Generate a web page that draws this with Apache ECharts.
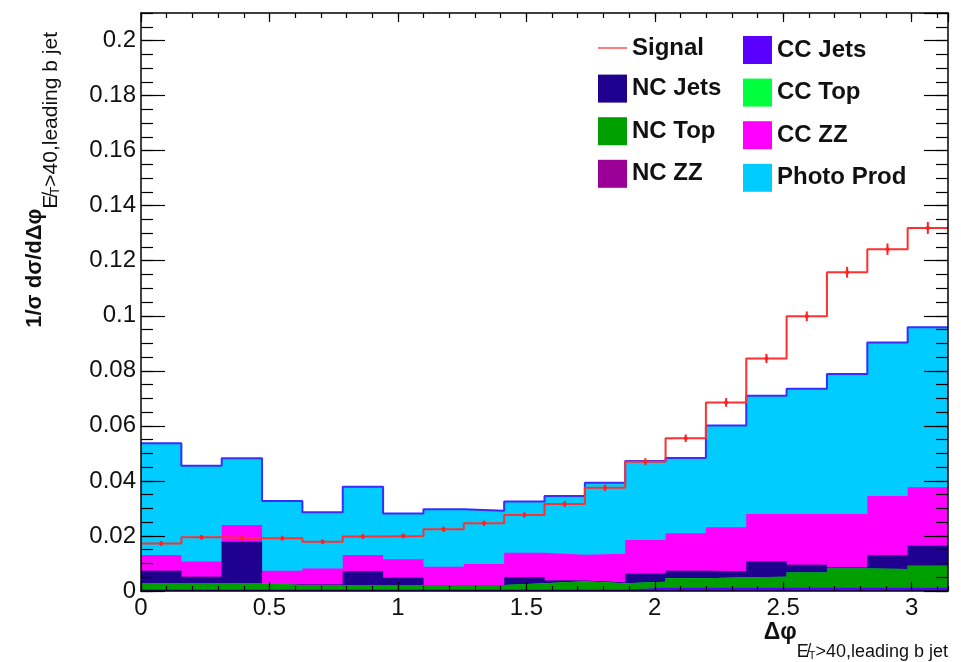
<!DOCTYPE html>
<html>
<head>
<meta charset="utf-8">
<script src="https://cdn.jsdelivr.net/npm/echarts@6/dist/echarts.min.js"></script>
<style>
  html, body { margin: 0; padding: 0; background: #ffffff; }
  #chart { width: 961px; height: 662px; }
</style>
</head>
<body>
<div id="chart"></div>
<script>
// Histogram binning: 20 equal bins over [0, pi]
const nBins = 20;
const xMin = 0;
const xMax = Math.PI;
const binEdges = Array.from({ length: nBins + 1 }, (_, i) => xMin + (xMax - xMin) * i / nBins);
const binCenters = binEdges.slice(0, nBins).map((e, i) => (e + binEdges[i + 1]) / 2);

// Background contributions per bin (stacked, bottom to top)
const ccJets    = [0.0005, 0.0005, 0.0005, 0.0005, 0.0005, 0.0005, 0.0005, 0.0005, 0.0005, 0.0005,
                   0.0005, 0.0005, 0.0012, 0.0012, 0.0012, 0.0012, 0.0012, 0.0012, 0.0012, 0.0012];
const ncTop     = [0.0022, 0.0022, 0.0022, 0.0017, 0.0017, 0.0017, 0.0017, 0.0017, 0.0017, 0.0023,
                   0.0030, 0.0023, 0.0022, 0.0034, 0.0038, 0.0040, 0.0055, 0.0070, 0.0068, 0.0080];
const ccTop     = [0, 0, 0, 0, 0, 0, 0, 0, 0, 0, 0, 0, 0, 0, 0, 0, 0, 0, 0, 0];
const ncJets    = [0.0047, 0.0025, 0.0152, 0.0002, 0.0002, 0.0050, 0.0026, 0.0000, 0.0000, 0.0022,
                   0.0003, 0.0003, 0.0029, 0.0028, 0.0022, 0.0055, 0.0028, 0.0003, 0.0050, 0.0072];
const ncZZ      = [0, 0, 0, 0, 0, 0, 0, 0, 0, 0, 0, 0, 0, 0, 0, 0, 0, 0, 0, 0];
const ccZZ      = [0.0057, 0.0055, 0.0061, 0.0050, 0.0058, 0.0059, 0.0067, 0.0066, 0.0076, 0.0089,
                   0.0094, 0.0104, 0.0122, 0.0136, 0.0160, 0.0173, 0.0185, 0.0195, 0.0215, 0.0213];
const photoProd = [0.0406, 0.0348, 0.0242, 0.0253, 0.0204, 0.0248, 0.0167, 0.0209, 0.0194, 0.0186,
                   0.0213, 0.0258, 0.0287, 0.0273, 0.0369, 0.0429, 0.0455, 0.0508, 0.0558, 0.0581];

// Signal distribution and its statistical uncertainty
const signal    = [0.0173, 0.0195, 0.0192, 0.0192, 0.0179, 0.0198, 0.0200, 0.0224, 0.0246, 0.0276,
                   0.0316, 0.0375, 0.0470, 0.0555, 0.0685, 0.0845, 0.0998, 0.1158, 0.1242, 0.1319];
const signalErr = [0.0005, 0.0005, 0.0005, 0.0005, 0.0005, 0.0005, 0.0005, 0.0006, 0.0006, 0.0006,
                   0.0007, 0.0008, 0.0009, 0.0010, 0.0012, 0.0013, 0.0014, 0.0016, 0.0017, 0.0018];

// Axis ranges and tick spacing
const yMax = 0.21;
const xMajor = 0.5, xMinor = 0.1;
const yMajor = 0.02, yMinor = 0.005;

const FONT = 'Liberation Sans, Arial, Helvetica, sans-serif';

// Stack layers, bottom to top
const layers = [
  { name: 'CC Jets',    values: ccJets,    color: '#5a00ff' },
  { name: 'NC Top',     values: ncTop,     color: '#009f00' },
  { name: 'CC Top',     values: ccTop,     color: '#00ff3c' },
  { name: 'NC Jets',    values: ncJets,    color: '#20008f' },
  { name: 'NC ZZ',      values: ncZZ,      color: '#9a0096' },
  { name: 'CC ZZ',      values: ccZZ,      color: '#ff00ff' },
  { name: 'Photo Prod', values: photoProd, color: '#00ccff', line: { color: '#3a2cff', width: 2 } }
];
const colorOf = {};
layers.forEach(l => { colorOf[l.name] = l.color; });

// Running totals: each layer is drawn as the cumulative sum filled down to zero,
// upper layers first so the lower ones paint over them.
let running = new Array(nBins).fill(0);
const cumulative = layers.map(l => {
  running = running.map((s, i) => s + l.values[i]);
  return running.slice();
});

// Turn per-bin contents into step-line points (left edges + closing right edge)
function stepPoints(values) {
  const pts = values.map((v, i) => [binEdges[i], v]);
  pts.push([binEdges[nBins], values[nBins - 1]]);
  return pts;
}

const series = [];
for (let k = layers.length - 1; k >= 0; k--) {
  const l = layers[k];
  series.push({
    name: l.name,
    type: 'line',
    step: 'end',
    data: stepPoints(cumulative[k]),
    symbol: 'none',
    showSymbol: false,
    silent: true,
    animation: false,
    itemStyle: { color: l.color },
    lineStyle: l.line ? l.line : { width: 0, opacity: 0 },
    areaStyle: { color: l.color, opacity: 1, origin: 'start' },
    z: 2 + (layers.length - 1 - k)
  });
}

series.push({
  name: 'Signal',
  type: 'line',
  step: 'end',
  data: stepPoints(signal),
  symbol: 'none',
  showSymbol: false,
  silent: true,
  animation: false,
  itemStyle: { color: '#ff3030' },
  lineStyle: { color: '#ff3030', width: 2 },
  z: 20
});

series.push({
  name: 'Signal errors',
  type: 'custom',
  silent: true,
  animation: false,
  z: 21,
  data: binCenters.map((c, i) => [c, signal[i], signalErr[i]]),
  renderItem: function (params, api) {
    const x = api.value(0), y = api.value(1), e = api.value(2);
    const p = api.coord([x, y]);
    const hi = api.coord([x, y + e]);
    const lo = api.coord([x, y - e]);
    return {
      type: 'group',
      children: [
        { type: 'line', shape: { x1: p[0], y1: hi[1] - 1, x2: p[0], y2: lo[1] + 1 },
          style: { stroke: '#ff2020', lineWidth: 2 } },
        { type: 'circle', shape: { cx: p[0], cy: p[1], r: 2 },
          style: { fill: '#ff2020' } }
      ]
    };
  }
});

function xAxisDef(position, interval, tickLen, withLabels, withLine) {
  return {
    type: 'value', position: position, min: xMin, max: xMax, interval: interval,
    z: 30,
    axisLine: { show: withLine, onZero: false, lineStyle: { color: '#000', width: 1.5 } },
    axisTick: { show: true, inside: true, length: tickLen, lineStyle: { color: '#000', width: 1.2 } },
    axisLabel: {
      show: withLabels, showMaxLabel: false, margin: 5,
      fontFamily: FONT, fontSize: 24, color: '#111',
      formatter: function (v) { return String(Math.round(v * 10) / 10); }
    },
    splitLine: { show: false }
  };
}

function yAxisDef(position, interval, tickLen, withLabels, withLine) {
  return {
    type: 'value', position: position, min: 0, max: yMax, interval: interval,
    z: 30,
    axisLine: { show: withLine, onZero: false, lineStyle: { color: '#000', width: 1.5 } },
    axisTick: { show: true, inside: true, length: tickLen, lineStyle: { color: '#000', width: 1.2 } },
    axisLabel: {
      show: withLabels, showMaxLabel: false, margin: 5,
      fontFamily: FONT, fontSize: 24, color: '#111',
      formatter: function (v) { return String(Math.round(v * 1000) / 1000); }
    },
    splitLine: { show: false }
  };
}

const legendText = { fontFamily: FONT, fontSize: 24, fontWeight: 'bold', color: '#111' };

function legendBox(name) {
  return { name: name, icon: 'rect', itemStyle: { color: colorOf[name], borderWidth: 0 } };
}

const option = {
  backgroundColor: '#ffffff',
  animation: false,
  grid: { left: 141, right: 13, top: 13, bottom: 71, containLabel: false },
  xAxis: [
    xAxisDef('bottom', xMajor, 9, true, true),
    xAxisDef('bottom', xMinor, 5, false, false),
    xAxisDef('top', xMajor, 9, false, true),
    xAxisDef('top', xMinor, 5, false, false)
  ],
  yAxis: [
    yAxisDef('left', yMajor, 24, true, true),
    yAxisDef('left', yMinor, 12, false, false),
    yAxisDef('right', yMajor, 24, false, true),
    yAxisDef('right', yMinor, 12, false, false)
  ],
  legend: [
    {
      orient: 'vertical', left: 598, top: 36, padding: 0,
      itemWidth: 29, itemHeight: 28, itemGap: 14.6,
      selectedMode: false, textStyle: legendText,
      data: [
        { name: 'Signal', icon: 'path://M0,0L30,0L30,1.8L0,1.8Z', itemStyle: { color: '#ff6a6a' } },
        legendBox('NC Jets'),
        legendBox('NC Top'),
        legendBox('NC ZZ')
      ]
    },
    {
      orient: 'vertical', left: 743, top: 36, padding: 0,
      itemWidth: 29, itemHeight: 28, itemGap: 14.6,
      selectedMode: false, textStyle: legendText,
      data: [
        legendBox('CC Jets'),
        legendBox('CC Top'),
        legendBox('CC ZZ'),
        legendBox('Photo Prod')
      ]
    }
  ],
  graphic: [
    {
      // vertical axis title with its subscript, read bottom to top;
      // the subscript drops by sitting at the bottom of a taller line box
      type: 'text', x: 43, y: 32, rotation: Math.PI / 2, silent: true,
      style: {
        text: '{a|1/σ dσ/dΔφ}{b|E\u0338}{c|T}{b|>40,leading b jet}',
        align: 'right', verticalAlign: 'middle',
        rich: {
          a: { fontFamily: FONT, fontSize: 22, fontWeight: 'bold', fill: '#111', lineHeight: 22, verticalAlign: 'top' },
          b: { fontFamily: FONT, fontSize: 21, fill: '#111', lineHeight: 38, verticalAlign: 'bottom' },
          c: { fontFamily: FONT, fontSize: 13, fill: '#111', lineHeight: 38, verticalAlign: 'bottom' }
        }
      }
    },
    {
      // horizontal axis title with its subscript
      type: 'text', x: 948, y: 621, silent: true,
      style: {
        text: '{a|Δφ}{b|E\u0338}{c|T}{b|>40,leading b jet}',
        align: 'right', verticalAlign: 'top',
        rich: {
          a: { fontFamily: FONT, fontSize: 23, fontWeight: 'bold', fill: '#111', lineHeight: 23, verticalAlign: 'top' },
          b: { fontFamily: FONT, fontSize: 18, fill: '#111', lineHeight: 40, verticalAlign: 'bottom' },
          c: { fontFamily: FONT, fontSize: 11, fill: '#111', lineHeight: 40, verticalAlign: 'bottom' }
        }
      }
    }
  ],
  series: series
};

const chart = echarts.init(document.getElementById('chart'), null, { renderer: 'canvas' });
chart.setOption(option);
</script>
</body>
</html>
